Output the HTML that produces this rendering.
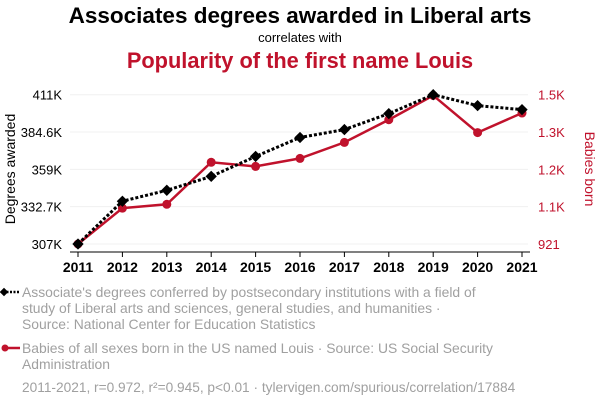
<!DOCTYPE html>
<html><head><meta charset="utf-8"><style>
body{margin:0;background:#fff;width:600px;height:408px;overflow:hidden;font-family:"Liberation Sans",Arial,sans-serif}
svg{display:block}
</style></head><body>
<svg id="chart" width="600" height="408" xmlns="http://www.w3.org/2000/svg">
<text x="300" y="23" text-anchor="middle" font-size="22.5" font-weight="bold" fill="#000">Associates degrees awarded in Liberal arts</text>
<text x="300" y="42" text-anchor="middle" font-size="13" fill="#000">correlates with</text>
<text x="300" y="68" text-anchor="middle" font-size="21.8" font-weight="bold" fill="#c0122c">Popularity of the first name Louis</text>
<g id="grid"></g><g id="axes"></g><g id="series"></g>
<text transform="translate(15,169) rotate(-90)" text-anchor="middle" font-size="14" fill="#000">Degrees awarded</text>
<text transform="translate(585,169) rotate(90)" text-anchor="middle" font-size="14" fill="#c0122c">Babies born</text>
<g>
<line x1="3" y1="292" x2="20" y2="292" stroke="#000" stroke-width="2.5" stroke-dasharray="2,1.5"/>
<rect x="1" y="289" width="6" height="6" transform="rotate(45 4 292)" fill="#000"/>
<text font-size="13.9" fill="#a0a0a0"><tspan x="22" y="297">Associate's degrees conferred by postsecondary institutions with a field of</tspan><tspan x="22" y="313">study of Liberal arts and sciences, general studies, and humanities ·</tspan><tspan x="22" y="329">Source: National Center for Education Statistics</tspan></text>
</g>
<g>
<line x1="3" y1="348" x2="20" y2="348" stroke="#c0122c" stroke-width="2.5"/>
<circle cx="5" cy="348" r="3.5" fill="#c0122c"/>
<text font-size="13.9" fill="#a0a0a0"><tspan x="22" y="353">Babies of all sexes born in the US named Louis · Source: US Social Security</tspan><tspan x="22" y="369">Administration</tspan></text>
</g>
<text x="22" y="392" font-size="13.7" fill="#a0a0a0">2011-2021, r=0.972, r²=0.945, p&lt;0.01 · tylervigen.com/spurious/correlation/17884</text>
</svg>
<script>
const years=[2011,2012,2013,2014,2015,2016,2017,2018,2019,2020,2021];
const degrees=[307,336.8,344.4,354.1,368,381.2,386.7,397.8,411,403.4,400.6];
const louis=[921,1060,1075,1238,1222,1253,1315,1403,1497,1353,1429];
const leftTicks=[307,333,359,385,411];
const leftTickLabels=["307K","332.7K","359K","384.6K","411K"];
const rightTicks=[921,1065.75,1210.5,1355.25,1500];
const rightTickLabels=["921","1.1K","1.2K","1.3K","1.5K"];
const NS="http://www.w3.org/2000/svg";
const x0=78,x1=522,yb=244,yt=94.7;
const xs=y=>x0+(y-years[0])/(years[years.length-1]-years[0])*(x1-x0);
const yl=v=>yb-(v-307)/(411-307)*(yb-yt);
const yr=v=>yb-(v-921)/(1500-921)*(yb-yt);
function mk(tag,attrs,parent){const e=document.createElementNS(NS,tag);for(const k in attrs)e.setAttribute(k,attrs[k]);parent.appendChild(e);return e;}
const grid=document.getElementById('grid'),axes=document.getElementById('axes'),ser=document.getElementById('series');
leftTicks.forEach((t,i)=>{
 const y=yl(t);
 const g=mk('line',{x1:70,x2:528,y1:y,y2:y,stroke:'#f0f0f0','stroke-width':1},grid);
 
 
 const tl=mk('text',{x:62,y:y+5,'text-anchor':'end','font-size':13,fill:'#000'},axes);
 tl.textContent=leftTickLabels[i];
 
 
});
rightTicks.forEach((t,i)=>{
 const y=yr(t);
 const tl=mk('text',{x:538,y:y+5,'font-size':13,fill:'#c0122c'},axes);
 tl.textContent=rightTickLabels[i];
 
 
});
mk('line',{x1:70,x2:530,y1:252,y2:252,stroke:'#000'},axes);
years.forEach(yv=>{
 const x=xs(yv);
 mk('line',{x1:x,x2:x,y1:252,y2:257,stroke:'#000'},axes);
 const tl=mk('text',{x:x,y:272,'text-anchor':'middle','font-size':14,'font-weight':'bold',fill:'#000'},axes);
 tl.textContent=yv;
 
 
});
const rl=mk('polyline',{points:years.map((y,i)=>xs(y)+','+yr(louis[i])).join(' '),fill:'none',stroke:'#c0122c','stroke-width':2.5},ser);


years.forEach((y,i)=>{
 const c=mk('circle',{cx:xs(y),cy:yr(louis[i]),r:4.5,fill:'#c0122c'},ser);
 
 
});
const bl=mk('polyline',{points:years.map((y,i)=>xs(y)+','+yl(degrees[i])).join(' '),fill:'none',stroke:'#000','stroke-width':3,'stroke-dasharray':'3,2'},ser);


years.forEach((y,i)=>{
 const cx=xs(y),cy=yl(degrees[i]);
 const d=mk('rect',{x:cx-4,y:cy-4,width:8,height:8,fill:'#000',transform:`rotate(45 ${cx} ${cy})`},ser);
 
 
});
</script>
</body></html>
